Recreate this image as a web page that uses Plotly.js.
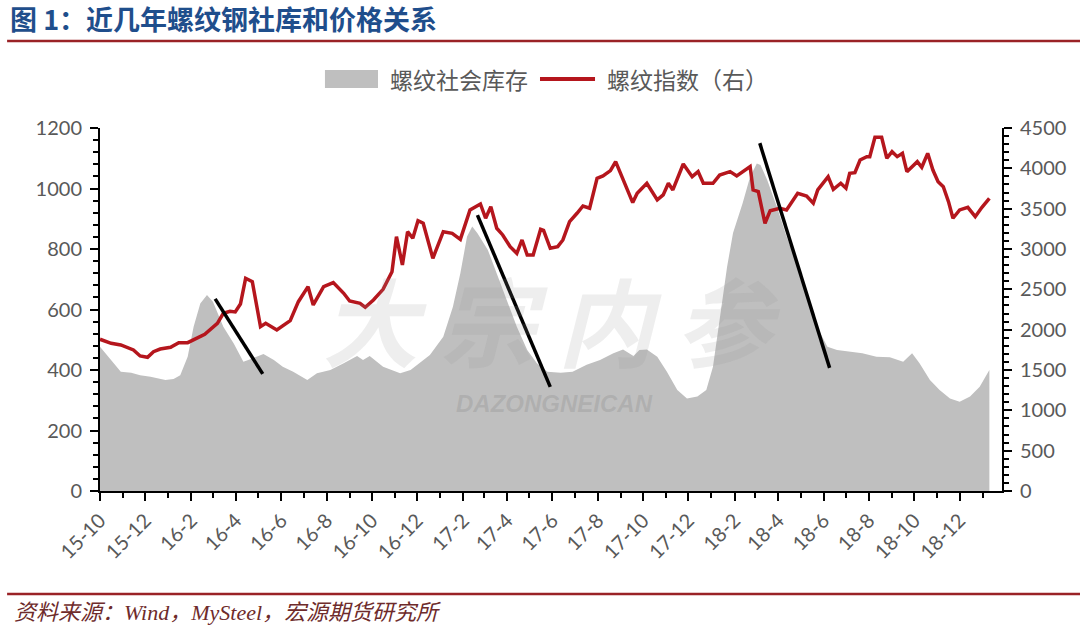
<!DOCTYPE html>
<html>
<head>
<meta charset="utf-8">
<script src="https://cdn.plot.ly/plotly-3.0.1.min.js"></script>
<style>
  html, body { margin: 0; padding: 0; background: #ffffff; }
  #chart { width: 1080px; height: 627px; }
</style>
</head>
<body>
<div id="chart"></div>
<script>
// ---- Data ----
const inventoryDates = [
  '2015-10-01','2015-10-16','2015-10-29','2015-11-12','2015-11-24','2015-12-08','2015-12-21','2015-12-28',
  '2016-01-08','2016-01-17','2016-01-27','2016-02-04','2016-02-13','2016-02-22','2016-03-01','2016-03-15','2016-03-29',
  '2016-04-11','2016-04-24','2016-05-08','2016-05-22','2016-06-03','2016-06-17','2016-07-06','2016-07-19','2016-08-06','2016-08-24',
  '2016-09-11','2016-09-19','2016-09-28','2016-10-16','2016-11-08','2016-11-22','2016-12-04','2016-12-18',
  '2017-01-05','2017-01-18','2017-01-28','2017-02-06','2017-02-13','2017-02-20','2017-03-06','2017-03-18','2017-04-01','2017-04-14',
  '2017-04-28','2017-05-11','2017-05-25','2017-06-12','2017-06-28','2017-07-17','2017-08-04','2017-08-22','2017-09-04','2017-09-18',
  '2017-09-26','2017-10-06','2017-10-20','2017-11-02','2017-11-16','2017-11-29','2017-12-13',
  '2017-12-25','2018-01-03','2018-01-12','2018-01-22','2018-01-30','2018-02-12','2018-02-22','2018-03-03','2018-03-08','2018-03-17',
  '2018-03-30','2018-04-12','2018-04-26','2018-05-09','2018-05-23','2018-06-06','2018-06-19','2018-07-06','2018-07-23','2018-08-11',
  '2018-08-29','2018-09-16','2018-09-28','2018-10-08','2018-10-22','2018-11-04','2018-11-18','2018-12-01','2018-12-15',
  '2018-12-28','2019-01-10'
];
const inventoryValues = [
  477,433,394,391,383,378,372,367,
  370,383,444,543,620,648,626,543,488,
  427,439,453,433,411,394,367,389,400,422,
  446,433,446,411,389,400,422,450,
  510,609,720,841,874,852,797,720,631,543,
  466,422,394,391,394,417,433,455,468,446,
  466,468,444,394,334,306,312,
  334,411,576,741,853,952,1039,1083,1078,1028,
  940,841,753,642,543,477,466,461,455,444,
  442,427,455,422,367,334,306,295,312,
  345,400
];

const priceDates = [
  '2015-10-01','2015-10-16','2015-10-29','2015-11-15','2015-11-24','2015-12-04','2015-12-12','2015-12-21',
  '2016-01-04','2016-01-15','2016-01-27','2016-02-04','2016-02-19','2016-03-07','2016-03-15','2016-03-24','2016-03-31','2016-04-07','2016-04-14','2016-04-23',
  '2016-05-04','2016-05-11','2016-05-26','2016-06-13','2016-06-24','2016-07-07','2016-07-14','2016-07-28','2016-08-10','2016-08-24','2016-09-01','2016-09-15','2016-09-22',
  '2016-10-03','2016-10-16','2016-10-28','2016-11-03','2016-11-11','2016-11-18','2016-11-25','2016-12-02','2016-12-09','2016-12-22',
  '2017-01-05','2017-01-17','2017-01-28','2017-02-10','2017-02-24','2017-03-03','2017-03-10','2017-03-18','2017-03-26','2017-04-05','2017-04-14','2017-04-21','2017-04-28','2017-05-06','2017-05-16','2017-05-20',
  '2017-05-29','2017-06-08','2017-06-15','2017-06-24','2017-07-04','2017-07-12','2017-07-21','2017-07-31','2017-08-08','2017-08-18','2017-08-25','2017-09-04','2017-09-17','2017-09-23',
  '2017-10-06','2017-10-20','2017-10-28','2017-11-04','2017-11-10','2017-11-24','2017-12-06','2017-12-14','2017-12-21',
  '2018-01-03','2018-01-12','2018-01-26','2018-02-04','2018-02-22','2018-02-26','2018-03-05','2018-03-14','2018-03-21','2018-04-03','2018-04-12','2018-04-27','2018-05-09','2018-05-18',
  '2018-05-24','2018-06-07','2018-06-14','2018-06-24','2018-07-01','2018-07-06','2018-07-13','2018-07-20','2018-07-29','2018-08-02','2018-08-09','2018-08-18','2018-08-25','2018-09-01','2018-09-08','2018-09-15',
  '2018-09-21','2018-09-28','2018-10-05','2018-10-11','2018-10-19','2018-10-26','2018-11-02','2018-11-09','2018-11-16','2018-11-22','2018-12-01','2018-12-12',
  '2018-12-22','2018-12-31','2019-01-10'
];
const priceValues = [
  1881,1831,1810,1748,1674,1657,1727,1760,
  1781,1839,1839,1872,1943,2079,2203,2228,2220,2318,2637,2595,
  2037,2079,1996,2111,2347,2533,2306,2533,2583,2451,2355,2327,2277,
  2368,2500,2719,3153,2802,3215,3133,3351,3319,2885,
  3215,3194,3120,3484,3558,3381,3525,3257,3174,3029,2946,3112,2926,2926,3244,3230,
  3009,3029,3112,3339,3443,3533,3505,3877,3905,3971,4083,3856,3575,3691,
  3815,3608,3670,3815,3732,4054,3897,3959,3815,
  3815,3917,3960,3905,4021,3732,3711,3319,3475,3505,3484,3691,3657,3567,
  3732,3897,3740,3815,3753,3938,3946,4103,4145,4145,4385,4385,4125,4207,4145,4186,
  3959,4021,4083,4013,4186,3979,3835,3773,3587,3381,3484,3517,
  3401,3517,3628
];

const tickDates = [
  '2015-10-01','2015-12-01','2016-02-01','2016-04-01','2016-06-01','2016-08-01','2016-10-01','2016-12-01',
  '2017-02-01','2017-04-01','2017-06-01','2017-08-01','2017-10-01','2017-12-01',
  '2018-02-01','2018-04-01','2018-06-01','2018-08-01','2018-10-01','2018-12-01'
];
const tickLabels = [
  '15-10','15-12','16-2','16-4','16-6','16-8','16-10','16-12',
  '17-2','17-4','17-6','17-8','17-10','17-12',
  '18-2','18-4','18-6','18-8','18-10','18-12'
];

// hand-drawn trend lines (start/end on the left axis)
const trendStartDates = ['2016-03-04','2017-02-20','2018-03-07'];
const trendStartValues = [635, 912, 1150];
const trendEndDates = ['2016-05-07','2017-05-29','2018-06-09'];
const trendEndValues = [387, 344, 407];

const seriesNames = ['螺纹社会库存', '螺纹指数（右）'];
const chartTitle = '图 1：近几年螺纹钢社库和价格关系';
const sourceNote = '资料来源：Wind，MySteel，宏源期货研究所';

// ---- Plot ----
const tickFont = { family: 'Lato, "Open Sans", sans-serif', size: 20, color: '#595959' };
const cjk = '"Noto Sans CJK SC", "Noto Sans", sans-serif';

const traces = [
  {
    x: inventoryDates, y: inventoryValues, name: seriesNames[0],
    type: 'scatter', mode: 'lines', fill: 'tozeroy',
    fillcolor: '#BFBFBF', line: { width: 0, color: '#BFBFBF' },
    yaxis: 'y', hoverinfo: 'skip'
  },
  {
    x: priceDates, y: priceValues, name: seriesNames[1],
    type: 'scatter', mode: 'lines',
    line: { width: 3.5, color: '#B5161D' },
    yaxis: 'y2', hoverinfo: 'skip'
  }
];

const shapes = [];
for (let i = 0; i < trendStartDates.length; i++) {
  shapes.push({
    type: 'line', xref: 'x', yref: 'y', layer: 'above',
    x0: trendStartDates[i], y0: trendStartValues[i],
    x1: trendEndDates[i], y1: trendEndValues[i],
    line: { color: '#000000', width: 3.5 }
  });
}
// header / footer rules
shapes.push({ type: 'line', xref: 'paper', yref: 'paper', x0: -0.103, x1: 1.09, y0: 1.2397, y1: 1.2397,
  line: { color: '#9A2226', width: 2.5 } });
shapes.push({ type: 'line', xref: 'paper', yref: 'paper', x0: -0.103, x1: 1.09, y0: -0.2837, y1: -0.2837,
  line: { color: '#9A2226', width: 2.5 } });
// legend symbols
shapes.push({ type: 'rect', xref: 'paper', yref: 'paper', x0: 0.2494, x1: 0.3082, y0: 1.110, y1: 1.160,
  fillcolor: '#BFBFBF', line: { width: 0 } });
shapes.push({ type: 'line', xref: 'paper', yref: 'paper', x0: 0.4878, x1: 0.5488, y0: 1.135, y1: 1.135,
  line: { color: '#B5161D', width: 4 } });

const annotations = [
  { text: chartTitle, xref: 'paper', yref: 'paper', x: -0.102, y: 1.303, xanchor: 'left', yanchor: 'middle',
    showarrow: false, font: { family: cjk, size: 27, color: '#1F4E8C', weight: 'bold' } },
  { text: '<i>' + sourceNote + '</i>', xref: 'paper', yref: 'paper', x: -0.098, y: -0.336, xanchor: 'left', yanchor: 'middle',
    showarrow: false, font: { family: '"Liberation Serif", ' + cjk, size: 22, color: '#6E2B2B' } },
  { text: seriesNames[0], xref: 'paper', yref: 'paper', x: 0.3193, y: 1.135, xanchor: 'left', yanchor: 'middle',
    showarrow: false, font: { family: cjk, size: 23, color: '#595959' } },
  { text: seriesNames[1], xref: 'paper', yref: 'paper', x: 0.5599, y: 1.135, xanchor: 'left', yanchor: 'middle',
    showarrow: false, font: { family: cjk, size: 23, color: '#595959' } },
  // watermark
  { text: '<b><i>DAZONGNEICAN</i></b>', xref: 'paper', yref: 'paper', x: 0.5044, y: 0.2424, xanchor: 'center', yanchor: 'middle',
    showarrow: false, font: { family: '"Liberation Sans", Arial, sans-serif', size: 24, color: 'rgba(110,110,110,0.2)' } },
  { text: '<b><i>大 宗 内 参</i></b>', xref: 'paper', yref: 'paper', x: 0.50, y: 0.475, xanchor: 'center', yanchor: 'middle',
    showarrow: false, font: { family: cjk, size: 96, color: 'rgba(150,150,150,0.16)' } }
];

const layout = {
  width: 1080, height: 627,
  margin: { l: 100, r: 78, t: 128, b: 136 },
  paper_bgcolor: '#ffffff', plot_bgcolor: '#ffffff',
  showlegend: false,
  xaxis: {
    type: 'date', range: ['2015-10-01', '2019-01-27'],
    tickmode: 'array', tickvals: tickDates, ticktext: tickLabels, tickangle: -45,
    ticks: 'outside', ticklen: 8, tickwidth: 2, tickcolor: '#000',
    showline: true, linecolor: '#000', linewidth: 2,
    showgrid: false, zeroline: false, tickfont: tickFont,
    minor: { tickmode: 'linear', tick0: '2015-10-01', dtick: 'M1', ticks: 'outside', ticklen: 5, tickwidth: 2, tickcolor: '#000', showgrid: false }
  },
  yaxis: {
    range: [0, 1200], tickmode: 'linear', tick0: 0, dtick: 200,
    ticks: 'outside', ticklen: 8, tickwidth: 2, tickcolor: '#000',
    showline: true, linecolor: '#000', linewidth: 2,
    showgrid: false, zeroline: false, tickfont: tickFont, ticklabelstandoff: 4,
    minor: { tickmode: 'linear', tick0: 0, dtick: 40, ticks: 'outside', ticklen: 5, tickwidth: 2, tickcolor: '#000', showgrid: false }
  },
  yaxis2: {
    overlaying: 'y', side: 'right', range: [0, 4500], tickmode: 'linear', tick0: 0, dtick: 500,
    ticks: 'outside', ticklen: 8, tickwidth: 2, tickcolor: '#000',
    showline: true, linecolor: '#000', linewidth: 2,
    showgrid: false, zeroline: false, tickfont: tickFont, ticklabelstandoff: 4,
    minor: { tickmode: 'linear', tick0: 0, dtick: 100, ticks: 'outside', ticklen: 5, tickwidth: 2, tickcolor: '#000', showgrid: false }
  },
  shapes: shapes,
  annotations: annotations
};

Plotly.newPlot('chart', traces, layout, { staticPlot: true, displayModeBar: false });
</script>
</body>
</html>
